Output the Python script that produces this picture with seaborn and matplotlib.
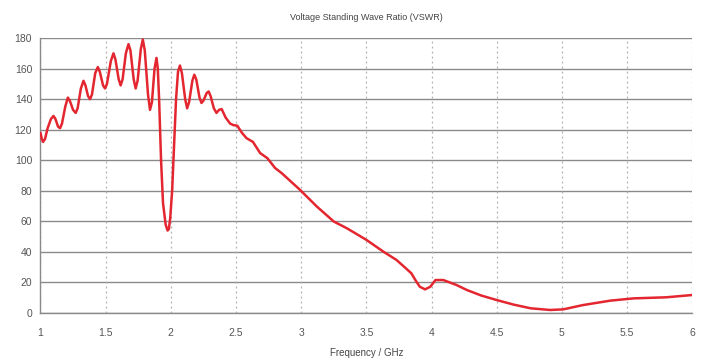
import matplotlib
matplotlib.use("Agg")
import matplotlib.pyplot as plt
import seaborn as sns
import pandas as pd

freq = [1.00, 1.01, 1.02, 1.035, 1.055, 1.08, 1.10, 1.115, 1.135, 1.15, 1.165, 1.19,
        1.21, 1.225, 1.25, 1.27, 1.285, 1.31, 1.33, 1.345, 1.365, 1.38, 1.395, 1.42,
        1.44, 1.455, 1.48, 1.495, 1.51, 1.54, 1.56, 1.575, 1.60, 1.615, 1.63, 1.655,
        1.675, 1.69, 1.715, 1.73, 1.745, 1.77, 1.785, 1.80, 1.825, 1.84, 1.855, 1.875,
        1.89, 1.90, 1.91, 1.925, 1.94, 1.96, 1.975, 1.985, 1.995, 2.01, 2.025, 2.04,
        2.055, 2.07, 2.085, 2.11, 2.125, 2.14, 2.165, 2.18, 2.195, 2.22, 2.235, 2.25,
        2.275, 2.29, 2.305, 2.33, 2.35, 2.37, 2.39, 2.42, 2.455, 2.48, 2.51, 2.545,
        2.58, 2.63, 2.685, 2.74, 2.80, 2.85, 2.99, 3.12, 3.25, 3.35, 3.50, 3.63,
        3.73, 3.80, 3.845, 3.88, 3.91, 3.95, 3.99, 4.03, 4.09, 4.19, 4.27, 4.38,
        4.50, 4.63, 4.76, 4.91, 5.01, 5.16, 5.37, 5.55, 5.80, 6.00]
vswr = [118, 114, 112, 114, 121, 127, 129, 127, 122, 121, 124, 135,
        141, 139, 133, 131, 134, 147, 152, 149, 142, 140, 143, 157,
        161, 158, 149, 147, 150, 165, 170, 166, 153, 149, 153, 170,
        176, 172, 153, 147, 152, 173, 179, 172, 143, 133, 138, 160,
        167, 160, 140, 100, 72, 58, 54, 55, 62, 80, 110, 140,
        158, 162, 157, 140, 134, 138, 152, 156, 153, 141, 137.5, 139,
        144, 145, 142, 134, 131, 133, 133.5, 128, 124, 123, 122.6, 118,
        114.5, 112, 104.7, 101.4, 94.9, 91.6, 80.7, 69.7, 59.9, 55.5, 47.9, 40.2,
        34.8, 29.5, 26, 21, 17.2, 15.5, 17.2, 21.6, 21.6, 18.4, 15.1, 11.5,
        8.5, 5.5, 3.1, 2.0, 2.4, 5.2, 8.1, 9.6, 10.3, 11.8]

x_ticks = [1, 1.5, 2, 2.5, 3, 3.5, 4, 4.5, 5, 5.5, 6]
x_tick_labels = ["1", "1.5", "2", "2.5", "3", "3.5", "4", "4.5", "5", "5.5", "6"]
y_ticks = [0, 20, 40, 60, 80, 100, 120, 140, 160, 180]
title = "Voltage Standing Wave Ratio (VSWR)"
xlabel = "Frequency / GHz"

sns.set_style("white")
plt.rcParams['font.family'] = ['Liberation Sans', 'DejaVu Sans']

df = pd.DataFrame({"Frequency": freq, "VSWR": vswr})

fig = plt.figure(figsize=(7.05, 3.64), dpi=100)
ax = fig.add_axes([0.0574, 0.140, 0.9246, 0.7555])

# grid
for yv in y_ticks:
    ax.axhline(yv, color="#8a8a8a", lw=1.0, zorder=1)
for xv in x_ticks:
    ax.axvline(xv, color="#b0b0b0", lw=0.9, ls=(0, (1.5, 2.5)), zorder=1)

sns.lineplot(data=df, x="Frequency", y="VSWR", ax=ax, color="#e3262f",
             lw=1.8, zorder=3, estimator=None, sort=False)

ax.set_xlim(1, 6)
ax.set_ylim(0, 180)
ax.set_xticks(x_ticks)
ax.set_xticklabels(x_tick_labels)
ax.set_yticks(y_ticks)
ax.tick_params(axis="both", labelsize=7.5, colors="#555555", length=3,
               width=0.8, direction="out", pad=3)
ax.tick_params(axis="x", pad=8)
for s in ["top", "right"]:
    ax.spines[s].set_visible(False)
for s in ["left", "bottom"]:
    ax.spines[s].set_color("#8a8a8a")
    ax.spines[s].set_linewidth(1.0)

ax.set_xlabel(xlabel, fontsize=7, color="#444444", labelpad=7)
ax.set_ylabel("")
ax.set_title(title, fontsize=6.5, color="#444444", pad=13)

fig.savefig("out.png", dpi=100)
